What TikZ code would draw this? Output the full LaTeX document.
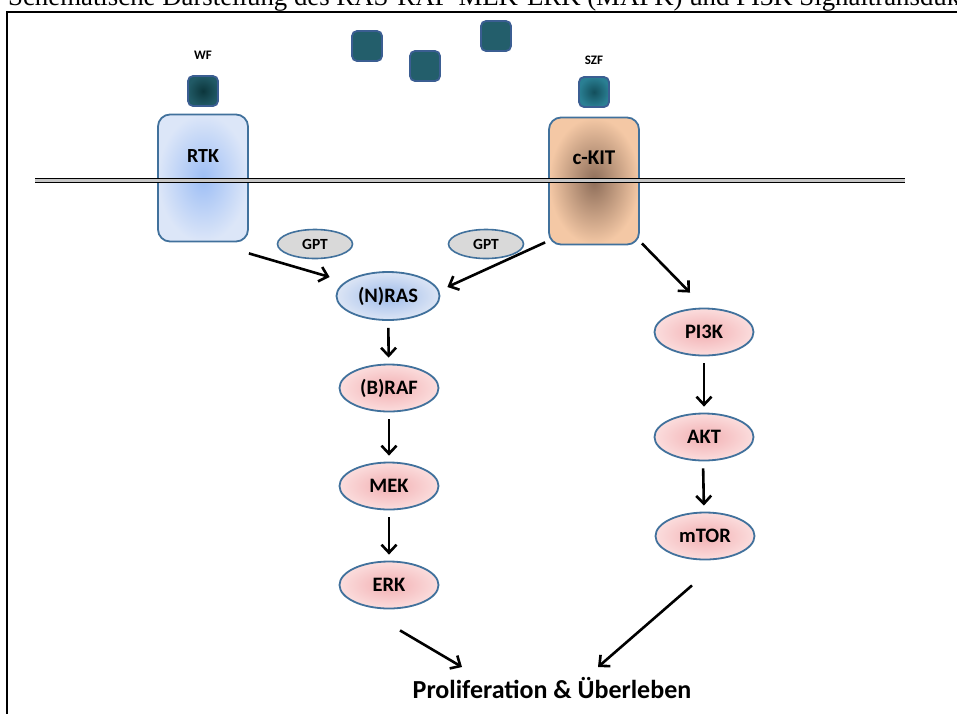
\documentclass[tikz,border=0pt]{standalone}
\usepackage{fontspec}
\setmainfont{Carlito}
\newfontfamily\titlefont{Liberation Serif}
\usetikzlibrary{shapes.geometric,arrows.meta}

\definecolor{edgeblue}{HTML}{41719C}
\definecolor{sqedge}{HTML}{3B5E92}
\definecolor{pinkin}{HTML}{F2AFB2}
\definecolor{pinkout}{HTML}{FBDDDD}
\definecolor{rasin}{HTML}{9FBCEA}
\definecolor{rasout}{HTML}{DCE5F5}
\definecolor{gptfill}{HTML}{D9D9D9}
\definecolor{rtkin}{HTML}{9DBEF5}
\definecolor{rtkout}{HTML}{DCE6F8}
\definecolor{kitin}{HTML}{8E6E5A}
\definecolor{kitout}{HTML}{F4C8A5}
\definecolor{wfin}{HTML}{0C363C}
\definecolor{wfout}{HTML}{215A66}
\definecolor{szfin}{HTML}{134F5C}
\definecolor{szfout}{HTML}{2A7F93}
\definecolor{freesq}{HTML}{235E6B}

\tikzset{
  enzyme/.style={ellipse, draw=edgeblue, line width=1.8pt, minimum width=99pt,
    minimum height=47pt, inner color=pinkin, outer color=pinkout,
    font=\bfseries\fontsize{20.5}{22}\selectfont},
  gpt/.style={ellipse, draw=edgeblue, line width=1.6pt, minimum width=75pt,
    minimum height=29pt, fill=gptfill, font=\bfseries\fontsize{15.5}{17}\selectfont},
  receptor/.style={rectangle, rounded corners=12pt, draw=edgeblue, line width=1.8pt,
    minimum width=90pt, minimum height=127pt},
  ligand/.style={rectangle, rounded corners=5pt, draw=sqedge, line width=1.8pt,
    minimum size=30pt},
  tag/.style={font=\bfseries\fontsize{#1}{#1}\selectfont, inner sep=0pt},
  arr/.style={line width=2.6pt, -{Straight Barb[length=8pt,width=15pt]}},
  down/.style={arr, shorten <=7pt, shorten >=6pt}
}

\begin{document}
\begin{tikzpicture}[x=1pt,y=-1pt]
  \useasboundingbox (0,0) rectangle (957,713);
  \clip (0,0) rectangle (957,713);

  % title line and frame
  \node[anchor=base west, inner sep=0pt, font=\titlefont\fontsize{26.8}{30}\selectfont]
    (title) at (8,5) {Schematische Darstellung des RAS-RAF-MEK-ERK (MAPK) und PI3K Signaltransduk};
  \draw[line width=2pt] (7,12) rectangle (1000,800);

  % free growth factors
  \node[ligand, fill=freesq] (sqa) at (367,46) {};
  \node[ligand, fill=freesq] (sqb) at (425,66) {};
  \node[ligand, fill=freesq] (sqc) at (496,36) {};

  % receptors
  \node[receptor, inner color=rtkin, outer color=rtkout] (rtk) at (203,178) {};
  \node[receptor, inner color=kitin, outer color=kitout] (kit) at (594,181) {};
  \node[tag=20] (rtklbl) at (203,156) {RTK};
  \node[tag=21] (kitlbl) at (594,158) {c-KIT};

  % bound factors
  \node[ligand, inner color=wfin, outer color=wfout] (wf) at (203,91) {};
  \node[ligand, inner color=szfin, outer color=szfout] (szf) at (594,92) {};
  \node[tag=13] (wflbl) at (203,55) {WF};
  \node[tag=13] (szflbl) at (594,60) {SZF};

  % membrane
  \coordinate (memL) at (35,180.5);
  \coordinate (memR) at (905,180.5);
  \draw[line width=1.3pt, double=gray!45, double distance=2.4pt] (memL) -- (memR);

  % GPT
  \node[gpt] (gptl) at (315,244) {GPT};
  \node[gpt] (gptr) at (486,244) {GPT};

  % MAPK path
  \node[enzyme, inner color=rasin, outer color=rasout, minimum width=103pt,
    minimum height=48pt] (nras) at (388,296) {(N)RAS};
  \node[enzyme] (braf) at (389,388) {(B)RAF};
  \node[enzyme] (mek) at (389,486) {MEK};
  \node[enzyme] (erk) at (389,585) {ERK};

  % PI3K path
  \node[enzyme] (pik) at (704,332) {PI3K};
  \node[enzyme] (akt) at (704,437) {AKT};
  \node[enzyme] (mtor) at (705,536) {mTOR};

  \node[anchor=base, inner sep=0pt, font=\bfseries\fontsize{26}{28}\selectfont]
    (prolif) at (552,698) {Proliferation \& Überleben};

  % arrows
  \draw[arr] ([shift={(0,11)}]rtk.south east) -- ([shift={(-6,-19)}]nras.west);
  \draw[arr] ([shift={(-3,-3)}]kit.south west) -- ([shift={(7,-9)}]nras.east);
  \draw[arr] ([shift={(2,-2)}]kit.south east) -- ([shift={(-14,-15)}]pik.north);

  \draw[down] (nras) -- (braf);
  \draw[down] (braf) -- (mek);
  \draw[down] (mek) -- (erk);
  \draw[down] (pik) -- (akt);
  \draw[down] ([xshift=-1pt]akt.south) -- ([xshift=-1pt]mtor.north);

  \draw[arr] ([shift={(11,21)}]erk.south) -- ([shift={(-90,-31)}]prolif.base);
  \draw[arr] ([shift={(-13,25)}]mtor.south) -- ([shift={(46,-31)}]prolif.base);
\end{tikzpicture}
\end{document}
